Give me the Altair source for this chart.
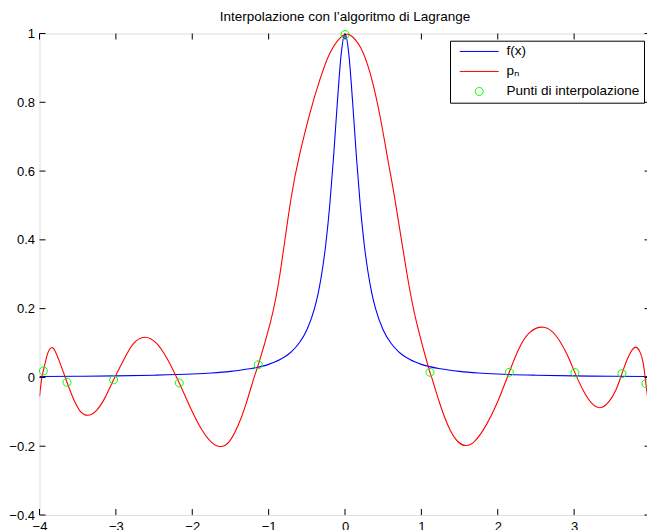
import altair as alt
import pandas as pd

# f(x): sampled values of the function
fx_x = [-4.0, -3.5, -3.0, -2.5, -2.0, -1.75, -1.5, -1.25, -1.0, -0.85, -0.7, -0.6,
        -0.5, -0.4, -0.35, -0.3, -0.25, -0.2, -0.15, -0.1, -0.05, 0.0,
        0.05, 0.1, 0.15, 0.2, 0.25, 0.3, 0.35, 0.4, 0.5, 0.6, 0.7, 0.85,
        1.0, 1.25, 1.5, 1.75, 2.0, 2.5, 3.0, 3.5, 4.0]
fx_y = [0.0025, 0.0033, 0.0044, 0.0064, 0.0099, 0.0129, 0.0175, 0.025, 0.038, 0.052, 0.075, 0.100,
        0.138, 0.200, 0.246, 0.308, 0.390, 0.500, 0.640, 0.800, 0.940, 1.000,
        0.940, 0.800, 0.640, 0.500, 0.390, 0.308, 0.246, 0.200, 0.138, 0.100, 0.075, 0.052,
        0.038, 0.025, 0.0175, 0.0129, 0.0099, 0.0064, 0.0044, 0.0033, 0.0025]

# p_n: Lagrange interpolating polynomial
pn_x = [-4.00, -3.97, -3.95, -3.90, -3.85, -3.80, -3.72, -3.64, -3.55, -3.46, -3.36, -3.25,
        -3.14, -3.03, -2.90, -2.77, -2.62, -2.47, -2.33, -2.17, -2.03, -1.88, -1.75, -1.63,
        -1.51, -1.40, -1.30, -1.19, -1.135, -0.98, -0.85, -0.71, -0.59, -0.46, -0.33, -0.20,
        -0.07, 0.00, 0.07, 0.20, 0.33, 0.46, 0.57, 0.655, 0.81, 0.94, 1.09, 1.135,
        1.24, 1.37, 1.48, 1.58, 1.70, 1.85, 2.00, 2.15, 2.28, 2.42, 2.60, 2.76,
        2.90, 3.01, 3.12, 3.23, 3.34, 3.45, 3.55, 3.626, 3.70, 3.76, 3.81, 3.86,
        3.905, 3.94, 3.97, 4.00]
pn_y = [-0.055, 0.000, 0.019, 0.065, 0.086, 0.078, 0.035, -0.014, -0.065, -0.100, -0.110, -0.095,
        -0.058, -0.007, 0.050, 0.098, 0.117, 0.100, 0.055, -0.016, -0.085, -0.150, -0.188, -0.201,
        -0.185, -0.140, -0.080, 0.000, 0.037, 0.157, 0.303, 0.516, 0.652, 0.768, 0.865, 0.942,
        0.986, 0.997, 0.995, 0.961, 0.884, 0.758, 0.622, 0.516, 0.303, 0.157, 0.031, 0.000,
        -0.075, -0.150, -0.187, -0.198, -0.185, -0.138, -0.070, 0.015, 0.085, 0.131, 0.146, 0.122,
        0.070, 0.014, -0.038, -0.075, -0.088, -0.072, -0.035, 0.011, 0.055, 0.080, 0.088, 0.075,
        0.041, -0.018, -0.070, -0.120]

# interpolation nodes
node_x = [-3.95, -3.64, -3.03, -2.17, -1.135, 0.0, 1.113, 2.151, 3.01, 3.626, 3.94]
node_y = [0.019, -0.014, -0.007, -0.016, 0.037, 0.997, 0.015, 0.015, 0.014, 0.011, -0.018]

x_ticks = [-4, -3, -2, -1, 0, 1, 2, 3, 4]
y_ticks = [-0.4, -0.2, 0, 0.2, 0.4, 0.6, 0.8, 1]

series_names = ["f(x)", "p\u2099", "Punti di interpolazione"]
series_colors = ["#0000ff", "#ff0000", "#00ff00"]
line_glyph = "M-3.9,0L3.9,0"
ring_glyph = "M0.8,0A0.8,0.8 0 1,1 -0.8,0A0.8,0.8 0 1,1 0.8,0Z"
series_shapes = [line_glyph, line_glyph, ring_glyph]

FONT = "Liberation Sans"

f_df = pd.DataFrame({"x": fx_x, "y": fx_y, "serie": series_names[0]})
p_df = pd.DataFrame({"x": pn_x, "y": pn_y, "serie": series_names[1]})
nodes = pd.DataFrame({"x": node_x, "y": node_y, "serie": series_names[2]})
xt = pd.DataFrame({"t": x_ticks})
yt = pd.DataFrame({"t": y_ticks})

xscale = alt.Scale(domain=[-4, 4], nice=False, zero=False)
yscale = alt.Scale(domain=[-0.4, 1], nice=False, zero=False)
xaxis = alt.Axis(values=x_ticks, ticks=False, tickSize=0, domain=False, grid=False,
                 labelPadding=5, labelFont=FONT, labelFontSize=13, labelColor="black",
                 labelFlush=False, labelOverlap=False, labelBound=False, format="~g", title=None)
yaxis = alt.Axis(values=y_ticks, ticks=False, tickSize=0, domain=False, grid=False,
                 labelPadding=5, labelFont=FONT, labelFontSize=13, labelColor="black",
                 labelFlush=False, labelOverlap=False, labelBound=False, format=".1~f", title=None)

color_scale = alt.Scale(domain=series_names, range=series_colors)
shape_scale = alt.Scale(domain=series_names, range=series_shapes)
legend = alt.Legend(title=None, orient="none", legendX=410.5, legendY=7.2,
                    strokeColor="black", fillColor="white", padding=4, cornerRadius=0,
                    symbolSize=100, symbolStrokeWidth=1, symbolOffset=18.5, labelOffset=20.5,
                    rowPadding=5, labelFont=FONT, labelFontSize=13.5, labelColor="black",
                    labelLimit=400)

X = alt.X("x:Q", scale=xscale, axis=xaxis)
Y = alt.Y("y:Q", scale=yscale, axis=yaxis)
C = alt.Color("serie:N", scale=color_scale, legend=legend)

f_line = alt.Chart(f_df).mark_line(
    strokeWidth=1.1, interpolate="monotone", clip=True
).encode(x=X, y=Y, color=C)

p_line = alt.Chart(p_df).mark_line(
    strokeWidth=1.1, interpolate="natural", clip=True
).encode(x=X, y=Y, color=C)

points = alt.Chart(nodes).mark_point(filled=False, size=100, opacity=1, strokeWidth=1).encode(
    x=X, y=Y, color=C,
    shape=alt.Shape("serie:N", scale=shape_scale, legend=legend),
)

# inward tick marks on all four sides of the box
tx = alt.X("t:Q", scale=xscale, axis=xaxis)
ty = alt.Y("t:Q", scale=yscale, axis=yaxis)
bottom_ticks = alt.Chart(xt).mark_rule(color="black", strokeWidth=1, y2Offset=-6).encode(
    x=tx, y=alt.datum(-0.4), y2=alt.datum(-0.4))
top_ticks = alt.Chart(xt).mark_rule(color="black", strokeWidth=1, y2Offset=6).encode(
    x=tx, y=alt.datum(1), y2=alt.datum(1))
left_ticks = alt.Chart(yt).mark_rule(color="black", strokeWidth=1, x2Offset=6).encode(
    y=ty, x=alt.datum(-4), x2=alt.datum(-4))
right_ticks = alt.Chart(yt).mark_rule(color="black", strokeWidth=1, x2Offset=-6).encode(
    y=ty, x=alt.datum(4), x2=alt.datum(4))

chart = alt.layer(
    f_line, p_line, points, bottom_ticks, top_ticks, left_ticks, right_ticks
).properties(
    width=611,
    height=481.5,
    title=alt.TitleParams("Interpolazione con l\u2019algoritmo di Lagrange", font=FONT,
                          fontSize=13.5, fontWeight="normal", color="black", anchor="middle",
                          offset=4),
    autosize=alt.AutoSizeParams(type="none"),
    padding={"left": 39.5, "top": 33.5, "right": -3.5, "bottom": 15},
).configure_view(
    stroke="black", strokeWidth=1
).configure(background="white")

chart.save("out.html", embed_options={"renderer": "svg", "actions": False})
